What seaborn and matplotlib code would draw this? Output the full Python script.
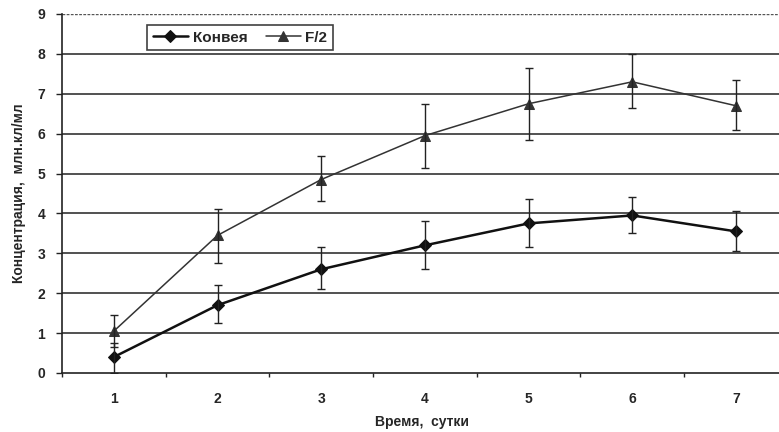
import pandas as pd
import matplotlib.pyplot as plt
import seaborn as sns
from matplotlib.ticker import MultipleLocator

sns.set_theme(style="white")
plt.rcParams['font.family'] = ['Liberation Sans', 'DejaVu Sans']

days = [1, 2, 3, 4, 5, 6, 7]
konvey = [0.4, 1.7, 2.6, 3.2, 3.75, 3.95, 3.55]
konvey_lo = [0.0, 1.25, 2.1, 2.6, 3.15, 3.5, 3.05]
konvey_hi = [0.75, 2.2, 3.15, 3.8, 4.35, 4.4, 4.05]
f2 = [1.05, 3.45, 4.85, 5.95, 6.75, 7.3, 6.7]
f2_lo = [0.65, 2.75, 4.3, 5.15, 5.85, 6.65, 6.1]
f2_hi = [1.45, 4.1, 5.45, 6.75, 7.65, 8.0, 7.35]
series_names = ['Конвея', 'F/2']

df = pd.DataFrame({'day': days * 2,
                   'value': konvey + f2,
                   'series': [series_names[0]] * 7 + [series_names[1]] * 7})

fig = plt.figure(figsize=(7.79, 4.32), dpi=100)
ax = fig.add_axes([0.0796, 0.1366, 0.925, 0.831])

sns.lineplot(data=df, x='day', y='value', hue='series', style='series',
             markers={'Конвея': 'D', 'F/2': '^'}, dashes=False,
             palette={'Конвея': '#111111', 'F/2': '#333333'},
             markersize=6, ax=ax, legend=False)
# thicker line for Конвея, thinner grey one with bigger triangles for F/2
for line, lw, ms in zip(ax.lines, [1.8, 1.1], [6, 7.5]):
    line.set_linewidth(lw)
    line.set_markersize(ms)
    line.set_markeredgecolor(line.get_color())
series_lines = list(ax.lines[:2])

ax.errorbar(days, konvey,
            yerr=[[v - l for v, l in zip(konvey, konvey_lo)],
                  [h - v for v, h in zip(konvey, konvey_hi)]],
            fmt='none', ecolor='#222222', elinewidth=1.0, capsize=3)
ax.errorbar(days, f2,
            yerr=[[v - l for v, l in zip(f2, f2_lo)],
                  [h - v for v, h in zip(f2, f2_hi)]],
            fmt='none', ecolor='#222222', elinewidth=1.0, capsize=3)

ax.set_xlim(0.5, 7.45)
ax.set_ylim(0, 9)
ax.set_xticks(days)
ax.xaxis.set_minor_locator(MultipleLocator(1, offset=0.5))
ax.yaxis.set_major_locator(MultipleLocator(1))
ax.tick_params(axis='x', which='major', length=0, pad=14)
ax.tick_params(axis='x', which='minor', length=3, width=1, color='#222222', bottom=True)
ax.tick_params(axis='y', length=4, width=1, color='#222222', left=True, pad=8)
for lab in ax.get_xticklabels() + ax.get_yticklabels():
    lab.set_fontweight('bold')
    lab.set_fontsize(10)

for v in range(1, 9):
    ax.axhline(v, color='#222222', linewidth=1.1, zorder=0)
ax.axhline(9, color='#555555', linewidth=1.0, linestyle=(0, (2, 1)), zorder=0)

for s in ['top', 'right']:
    ax.spines[s].set_visible(False)
ax.spines['left'].set_color('#222222')
ax.spines['bottom'].set_color('#222222')
ax.spines['left'].set_linewidth(1.2)
ax.spines['bottom'].set_linewidth(1.2)

ax.set_xlabel('Время,  сутки', fontsize=10, fontweight='bold', labelpad=6)
ax.set_ylabel('Концентрация,  млн.кл/мл', fontsize=10, fontweight='bold', labelpad=8)

leg = ax.legend(series_lines, series_names,
                loc='upper left', bbox_to_anchor=(0.108, 0.99), ncol=2,
                frameon=True, fancybox=False, edgecolor='#111111',
                handlelength=2.3, handletextpad=0.3, columnspacing=1.2,
                borderpad=0.35, prop={'weight': 'bold', 'size': 11})
leg.get_frame().set_linewidth(1.2)

plt.savefig('out.png', dpi=100)
